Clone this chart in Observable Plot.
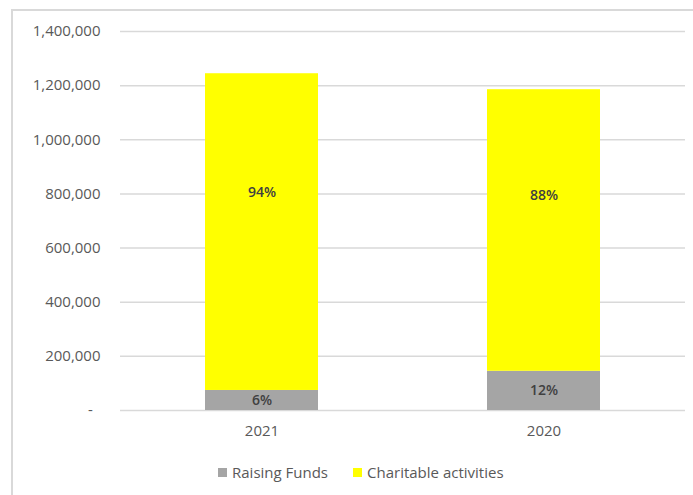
<!DOCTYPE html>
<html>
<head>
<meta charset="utf-8">
<script src="https://cdn.jsdelivr.net/npm/d3@7"></script>
<script src="https://cdn.jsdelivr.net/npm/@observablehq/plot@0.6"></script>
<style>
  html, body { margin: 0; padding: 0; background: #fff; }
  #wrap { position: relative; width: 693px; height: 495px; overflow: hidden; font-family: "Open Sans", sans-serif; }
  #frame { position: absolute; left: 11px; top: 9px; width: 720px; height: 520px; border-left: 2px solid #d9d9d9; border-top: 2px solid #d9d9d9; box-sizing: border-box; }
  #chart { position: absolute; left: 0; top: 0; }
  #legend { position: absolute; left: 218px; top: 462px; display: flex; align-items: center; font-size: 15px; color: #595959; white-space: nowrap; }
  .item { display: flex; align-items: center; margin-right: 25px; }
  .sw { width: 9px; height: 9px; margin-right: 5px; }
</style>
</head>
<body>
<div id="wrap">
  <div id="frame"></div>
  <div id="chart"></div>
  <div id="legend"></div>
</div>
<script>
// ---- data ----
const years = ["2021", "2020"];
const seriesNames = ["Raising Funds", "Charitable activities"];
const seriesColors = ["#a5a5a5", "#ffff00"];
const raisingFunds = [74000, 145000];
const charitable = [1170000, 1040000];
const yTicks = [0, 200000, 400000, 600000, 800000, 1000000, 1200000, 1400000];

// ---- build table ----
const rows = [];
years.forEach((yr, i) => rows.push({year: yr, series: seriesNames[0], value: raisingFunds[i]}));
years.forEach((yr, i) => rows.push({year: yr, series: seriesNames[1], value: charitable[i]}));

// label placement inside each segment (fraction of segment height)
const labelFrac = {"Raising Funds": 0.5, "Charitable activities": 0.625};
const labels = [];
years.forEach((yr, i) => {
  const total = raisingFunds[i] + charitable[i];
  const lo = raisingFunds[i];
  labels.push({year: yr, y: lo * labelFrac["Raising Funds"], text: Math.round(lo / total * 100) + "%"});
  labels.push({year: yr, y: lo + charitable[i] * labelFrac["Charitable activities"], text: Math.round(charitable[i] / total * 100) + "%"});
});

const fmt = d => d === 0 ? "-\u00a0\u00a0" : d3.format(",")(d);

const chart = Plot.plot({
  width: 693,
  height: 450,
  marginLeft: 120,
  marginRight: 8,
  marginTop: 31,
  marginBottom: 40,
  style: {fontFamily: "'Open Sans', sans-serif", fontSize: "15px", color: "#595959", background: "transparent"},
  x: {domain: years, paddingInner: 0.6, paddingOuter: 0.3, label: null},
  y: {domain: [0, 1400000], label: null},
  color: {domain: seriesNames, range: seriesColors},
  marks: [
    Plot.gridY(yTicks, {stroke: "#d9d9d9", strokeOpacity: 1, strokeWidth: 1.5}),
    Plot.barY(rows, {x: "year", y: "value", fill: "series", order: seriesNames}),
    Plot.text(labels, {x: "year", y: "y", text: "text", fill: "#404040", fontSize: 14, fontWeight: 600}),
    Plot.axisY({ticks: yTicks, tickSize: 0, tickPadding: 20, tickFormat: fmt, label: null}),
    Plot.axisX({tickSize: 0, tickPadding: 15, label: null})
  ]
});
document.getElementById("chart").appendChild(chart);

// ---- legend ----
const leg = document.getElementById("legend");
seriesNames.forEach((name, i) => {
  const it = document.createElement("div");
  it.className = "item";
  const sw = document.createElement("div");
  sw.className = "sw";
  sw.style.background = seriesColors[i];
  const tx = document.createElement("span");
  tx.textContent = name;
  it.appendChild(sw); it.appendChild(tx);
  leg.appendChild(it);
});
</script>
</body>
</html>
